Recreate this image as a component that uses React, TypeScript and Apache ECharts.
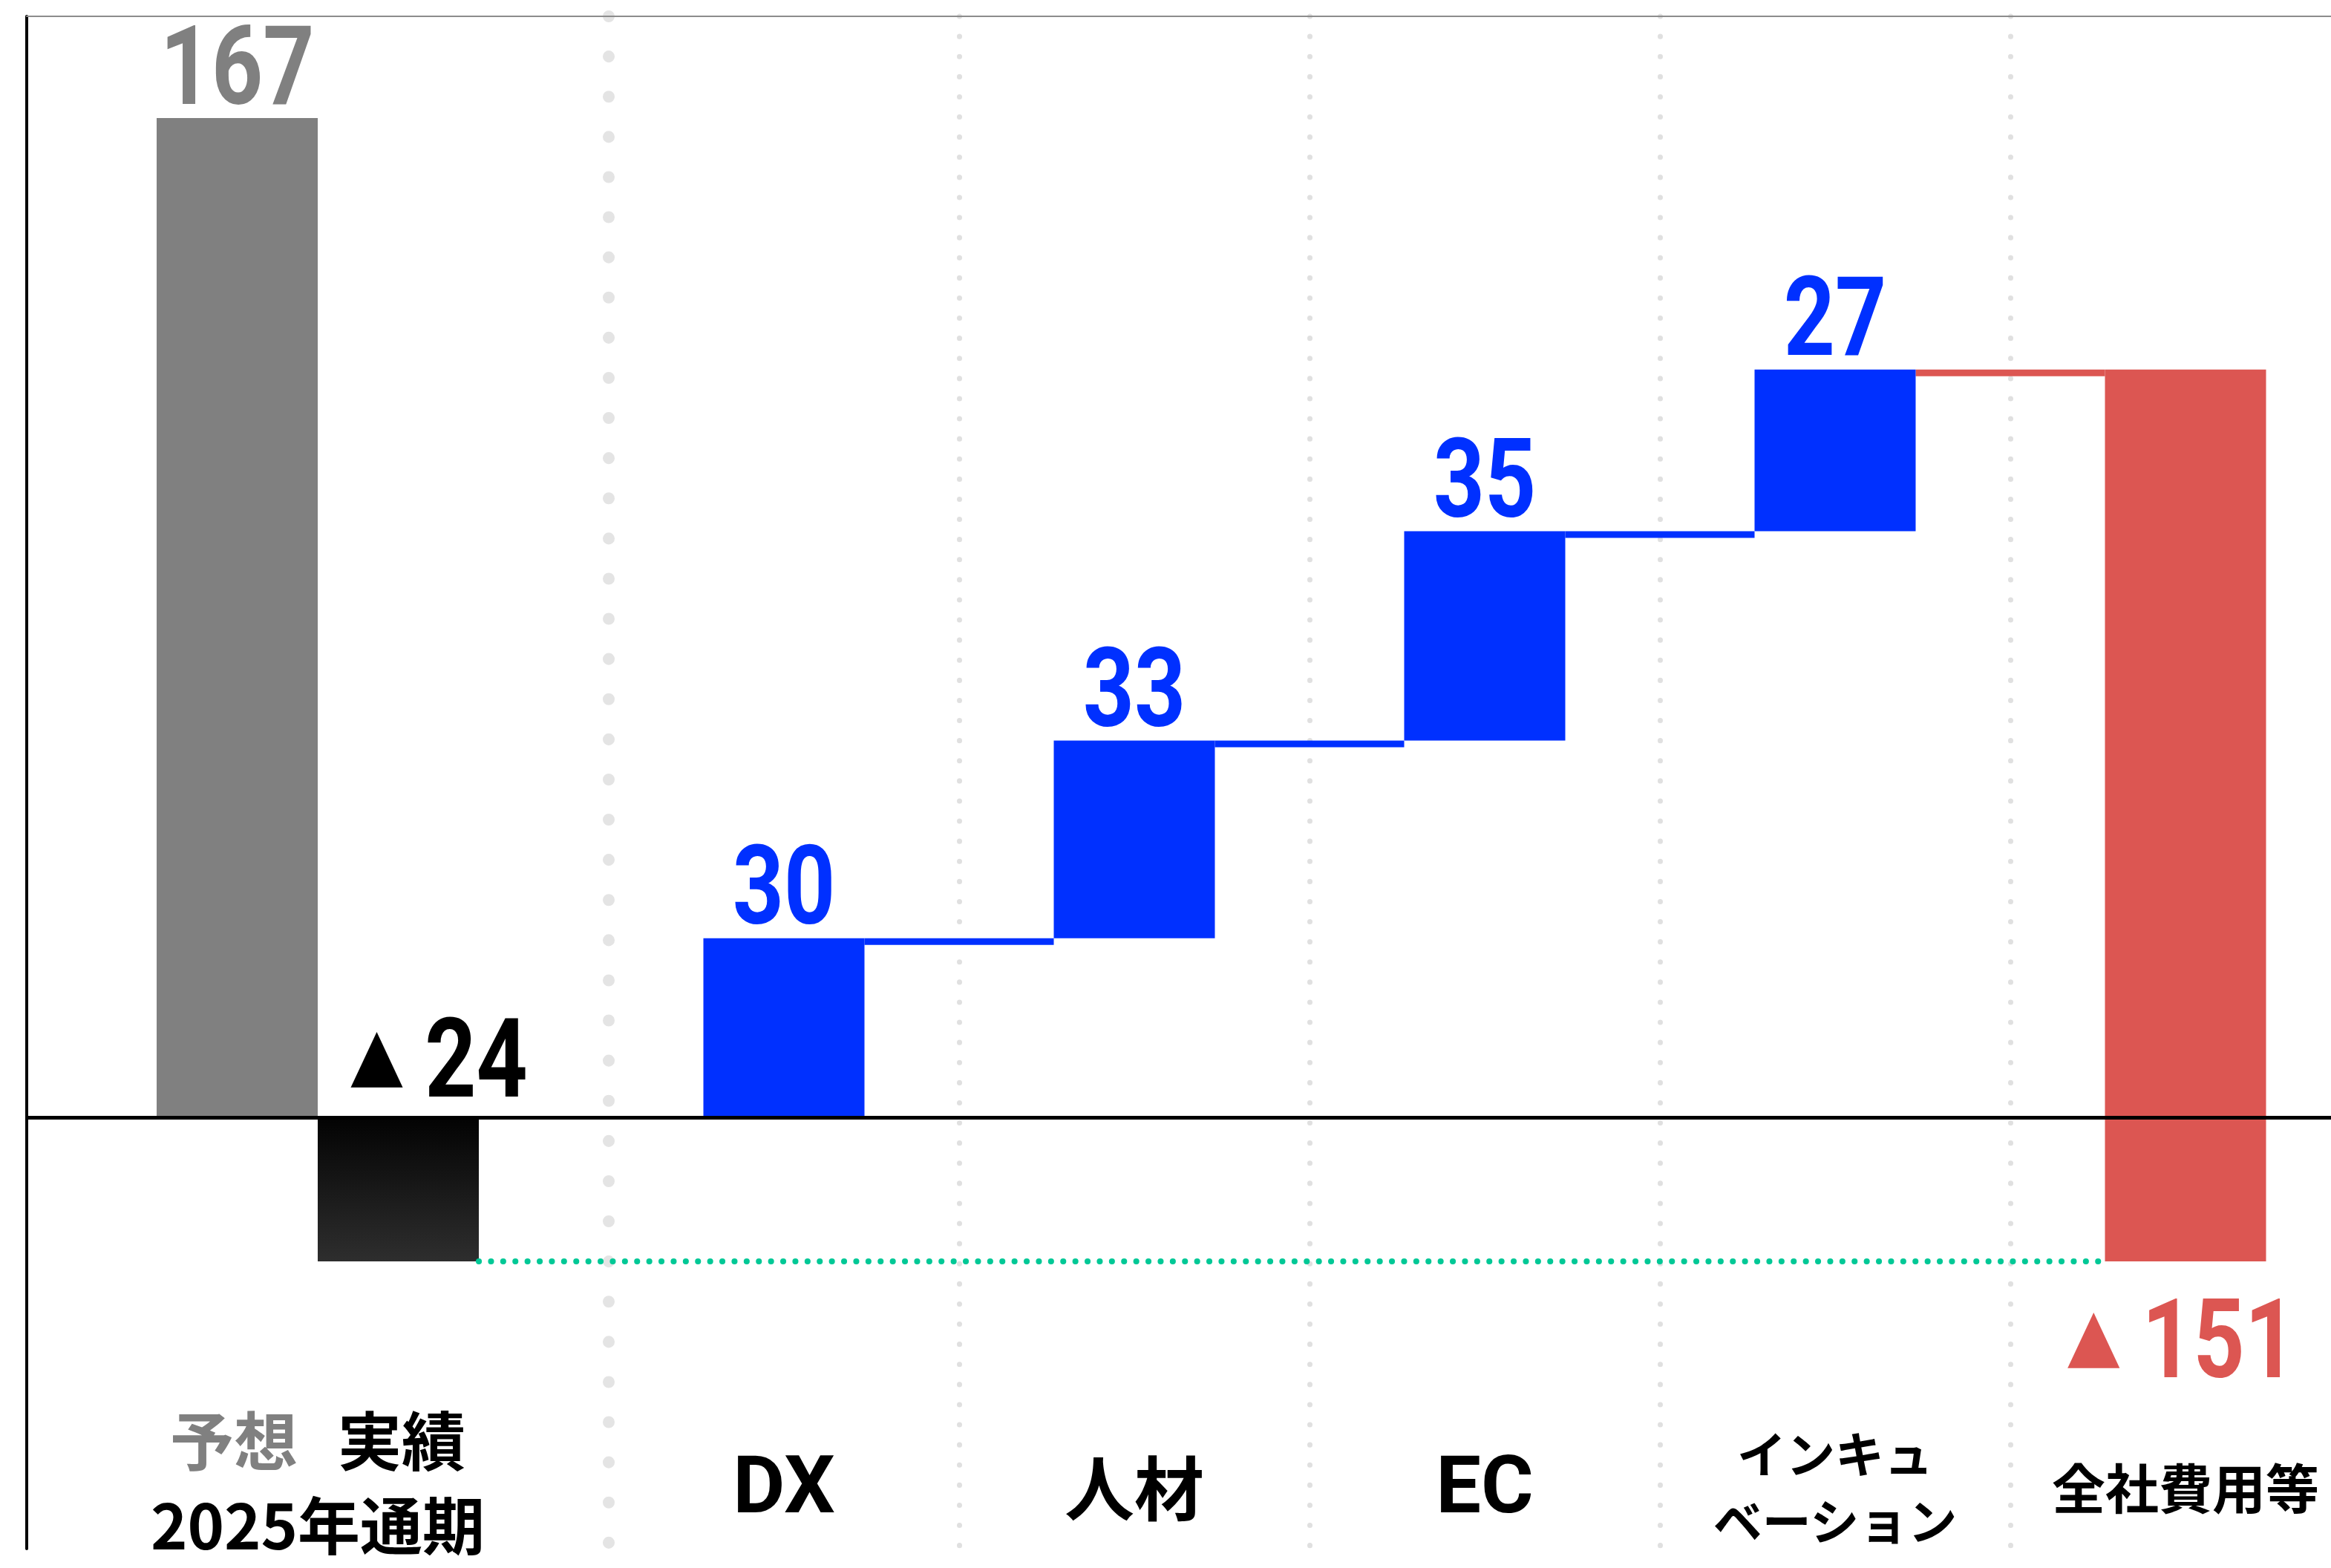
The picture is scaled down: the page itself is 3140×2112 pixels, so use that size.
import React, { useEffect, useRef } from 'react';
import * as echarts from 'echarts';

// ---------- data ----------
const periodCategory = ['2025年通期'];
const forecastName = '予想';
const actualName = '実績';
const forecastValues = [167];
const actualValues = [-24];
const driverCategories = ['DX', '人材', 'EC', 'インキュ\nベーション'];
const driverValues = [30, 33, 35, 27];
const corporateCategory = '全社費用等';
const corporateValue = -151;

// ---------- styles ----------
const FONT_DIGIT = 'Roboto, "Noto Sans", sans-serif';
const FONT_JP = '"Noto Sans CJK JP", "Noto Sans", sans-serif';
const GRAY = '#808080';
const BLUE = '#0030ff';
const RED = '#dc5652';
const GREEN = '#00c896';
const BAR_W = 217;
const CONNECTOR_H = 9;
const NUM_SIZE = 149;
const NUM_SCALE_X = 0.81;
const CHART_W = 3180;
const CHART_H = 2112;

const waterfallCategories = [...driverCategories, corporateCategory];
const labelStyleKeys = ['latin', 'kanji', 'latin', 'kana', 'kanjiSmall'];

const numFont = (fill: string) => ({
  fontFamily: FONT_DIGIT,
  fontWeight: 'bold',
  fontSize: NUM_SIZE,
  lineHeight: NUM_SIZE,
  fill,
});
const triFont = (fill: string) => ({
  fontFamily: FONT_JP,
  fontSize: 92,
  lineHeight: NUM_SIZE,
  fill,
  padding: [0, 34, 0, 0],
});
const minusLabel = (v: number) => `{t|▲}{n|${Math.abs(v)}}`;

export default function App() {
  const ref = useRef<HTMLDivElement>(null);

  useEffect(() => {
    document.body.style.margin = '0';
    document.body.style.overflow = 'hidden';
    const chart = echarts.init(ref.current!, null, { renderer: 'svg' });

    // cumulative waterfall levels
    const cum: number[] = [0];
    driverValues.forEach((v) => cum.push(cum[cum.length - 1] + v));
    const top = cum[cum.length - 1];
    const actual = actualValues[0];
    const n = driverValues.length;
    const baseData = [...cum.slice(0, n), actual];
    const increaseData = [...driverValues, 0];
    const corporateData = [...driverValues.map(() => 0), top - actual];
    const connectorData = driverValues.map((_, i) => [i, cum[i + 1], i === n - 1 ? 1 : 0]);
    const periodLabelData = [
      [0, forecastValues[0], 0],
      [0, actual, 1],
    ];
    const waterfallLabelData = [...driverValues.map((_, i) => [i, cum[i + 1], 0]), [n, actual, 1]];

    const zeroLine = {
      silent: true,
      symbol: 'none',
      label: { show: false },
      lineStyle: { color: '#000', width: 5, type: 'solid' },
      emphasis: { disabled: true },
      data: [{ yAxis: 0 }],
    };

    const yCommon = {
      type: 'value',
      min: -72,
      max: 184,
      splitLine: { show: false },
      axisTick: { show: false },
      axisLabel: { show: false },
    };

    const option: any = {
      animation: false,
      backgroundColor: '#fff',
      grid: [
        { left: 36, top: 22, width: 784, height: 2064 },
        { left: 820, top: 22, width: 2360, height: 2064 },
      ],
      xAxis: [
        {
          gridIndex: 0,
          type: 'category',
          data: periodCategory,
          position: 'bottom',
          axisLine: { show: false, onZero: false },
          axisTick: { show: false },
          axisLabel: {
            interval: 0,
            margin: -106,
            verticalAlign: 'middle',
            formatter: (v: string) => `{g|${forecastName}}{sp|}{b|${actualName}}\n{d|${v}}`,
            rich: {
              g: { fontFamily: FONT_JP, fontWeight: 'bold', fontSize: 86, lineHeight: 140, color: GRAY },
              sp: { width: 54, lineHeight: 140 },
              b: { fontFamily: FONT_JP, fontWeight: 'bold', fontSize: 86, lineHeight: 140, color: '#000' },
              d: { fontFamily: FONT_JP, fontWeight: 'bold', fontSize: 84, lineHeight: 88, color: '#000' },
            },
          },
          splitLine: {
            show: true,
            interval: 0,
            showMinLine: false,
            lineStyle: { color: '#e4e4e4', width: 16, type: [0.1, 54], cap: 'round' },
          },
        },
        {
          gridIndex: 0,
          type: 'category',
          data: periodCategory,
          position: 'top',
          axisLine: { show: true, onZero: false, lineStyle: { color: '#8c8c8c', width: 2 } },
          axisTick: { show: false },
          axisLabel: { show: false },
          splitLine: { show: false },
        },
        {
          gridIndex: 1,
          type: 'category',
          data: waterfallCategories,
          position: 'bottom',
          axisLine: { show: false, onZero: false },
          axisTick: { show: false },
          axisLabel: {
            interval: 0,
            margin: -86,
            verticalAlign: 'middle',
            formatter: (v: string, i: number) =>
              v
                .split('\n')
                .map((line) => `{${labelStyleKeys[i]}|${line}}`)
                .join('\n'),
            rich: {
              latin: { fontFamily: FONT_DIGIT, fontWeight: 'bold', fontSize: 108, lineHeight: 120, color: '#000' },
              kanji: { fontFamily: FONT_JP, fontWeight: 'bold', fontSize: 94, lineHeight: 120, color: '#000' },
              kana: { fontFamily: FONT_JP, fontWeight: 'bold', fontSize: 66, lineHeight: 90, color: '#000' },
              kanjiSmall: { fontFamily: FONT_JP, fontWeight: 'bold', fontSize: 72, lineHeight: 100, color: '#000' },
            },
          },
          splitLine: {
            show: true,
            interval: 0,
            showMinLine: false,
            showMaxLine: false,
            lineStyle: { color: '#e0e0e0', width: 7, type: [0.1, 27], cap: 'round' },
          },
        },
        {
          gridIndex: 1,
          type: 'category',
          data: waterfallCategories,
          position: 'top',
          axisLine: { show: true, onZero: false, lineStyle: { color: '#8c8c8c', width: 2 } },
          axisTick: { show: false },
          axisLabel: { show: false },
          splitLine: { show: false },
        },
      ],
      yAxis: [
        {
          ...yCommon,
          gridIndex: 0,
          axisLine: { show: true, onZero: false, lineStyle: { color: '#000', width: 4 } },
        },
        { ...yCommon, gridIndex: 1, show: false },
      ],
      series: [
        {
          name: forecastName,
          type: 'bar',
          xAxisIndex: 0,
          yAxisIndex: 0,
          barWidth: BAR_W,
          barGap: '0%',
          data: forecastValues,
          itemStyle: { color: GRAY },
          emphasis: { disabled: true },
          markLine: zeroLine,
        },
        {
          name: actualName,
          type: 'bar',
          xAxisIndex: 0,
          yAxisIndex: 0,
          barWidth: BAR_W,
          barGap: '0%',
          data: actualValues,
          itemStyle: {
            color: new echarts.graphic.LinearGradient(0, 0, 0, 1, [
              { offset: 0, color: '#030303' },
              { offset: 1, color: '#2e2e2e' },
            ]),
          },
          emphasis: { disabled: true },
        },
        {
          name: 'periodLabels',
          type: 'custom',
          xAxisIndex: 0,
          yAxisIndex: 0,
          silent: true,
          z: 10,
          data: periodLabelData,
          renderItem: (params: any, api: any) => {
            const kind = api.value(2);
            const v = api.value(1);
            if (kind === 0) {
              const p = api.coord([api.value(0), v]);
              return {
                type: 'text',
                x: p[0] - BAR_W / 2,
                y: p[1] + 4,
                scaleX: NUM_SCALE_X,
                style: { text: String(v), ...numFont(GRAY), align: 'center', verticalAlign: 'bottom' },
              };
            }
            const z0 = api.coord([api.value(0), 0]);
            return {
              type: 'text',
              x: z0[0] + BAR_W / 2 + 54,
              y: z0[1] - 5,
              scaleX: NUM_SCALE_X,
              style: {
                text: minusLabel(v),
                fill: '#000',
                align: 'center',
                verticalAlign: 'bottom',
                rich: { t: triFont('#000'), n: numFont('#000') },
              },
            };
          },
        },
        {
          name: 'base',
          type: 'bar',
          xAxisIndex: 2,
          yAxisIndex: 1,
          stack: 'wf',
          stackStrategy: 'all',
          barWidth: BAR_W,
          data: baseData,
          itemStyle: { color: 'rgba(0,0,0,0)' },
          silent: true,
          emphasis: { disabled: true },
          markLine: zeroLine,
        },
        {
          name: 'increase',
          type: 'bar',
          xAxisIndex: 2,
          yAxisIndex: 1,
          stack: 'wf',
          stackStrategy: 'all',
          barWidth: BAR_W,
          data: increaseData,
          itemStyle: { color: BLUE },
          emphasis: { disabled: true },
        },
        {
          name: 'corporate',
          type: 'bar',
          xAxisIndex: 2,
          yAxisIndex: 1,
          stack: 'wf',
          stackStrategy: 'all',
          barWidth: BAR_W,
          data: corporateData,
          itemStyle: { color: RED },
          emphasis: { disabled: true },
        },
        {
          name: 'connectors',
          type: 'custom',
          xAxisIndex: 2,
          yAxisIndex: 1,
          silent: true,
          data: connectorData,
          renderItem: (params: any, api: any) => {
            const i = api.value(0);
            const level = api.value(1);
            const p = api.coord([i, level]);
            const q = api.coord([i + 1, level]);
            return {
              type: 'rect',
              shape: { x: p[0] + BAR_W / 2, y: p[1], width: q[0] - p[0] - BAR_W, height: CONNECTOR_H },
              style: { fill: api.value(2) ? RED : BLUE },
            };
          },
        },
        {
          name: 'waterfallLabels',
          type: 'custom',
          xAxisIndex: 2,
          yAxisIndex: 1,
          silent: true,
          z: 10,
          data: waterfallLabelData,
          renderItem: (params: any, api: any) => {
            const kind = api.value(2);
            const p = api.coord([api.value(0), api.value(1)]);
            if (kind === 0) {
              return {
                type: 'text',
                x: p[0],
                y: p[1] + 4,
                scaleX: NUM_SCALE_X,
                style: {
                  text: String(driverValues[params.dataIndex]),
                  ...numFont(BLUE),
                  align: 'center',
                  verticalAlign: 'bottom',
                },
              };
            }
            return {
              type: 'text',
              x: p[0] - 6,
              y: p[1] + 30,
              scaleX: NUM_SCALE_X,
              style: {
                text: minusLabel(corporateValue),
                fill: RED,
                align: 'center',
                verticalAlign: 'top',
                rich: { t: triFont(RED), n: numFont(RED) },
              },
            };
          },
        },
      ],
    };

    chart.setOption(option);

    // green dotted line from the actual bar's bottom to the corporate bar, at the actual level
    const start = chart.convertToPixel({ seriesIndex: 1 }, [periodCategory[0], actual]) as number[];
    const end = chart.convertToPixel({ seriesIndex: 4 }, [corporateCategory, actual]) as number[];
    if (start && end) {
      chart.setOption({
        graphic: {
          elements: [
            {
              type: 'line',
              silent: true,
              z: 3,
              shape: { x1: start[0] + BAR_W, y1: start[1], x2: end[0] - BAR_W / 2, y2: end[1] },
              style: { stroke: GREEN, lineWidth: 8, lineDash: [0.1, 16.3], lineCap: 'round' },
            },
          ],
        },
      });
    }

    return () => chart.dispose();
  }, []);

  return <div ref={ref} style={{ width: CHART_W, height: CHART_H }} />;
}
